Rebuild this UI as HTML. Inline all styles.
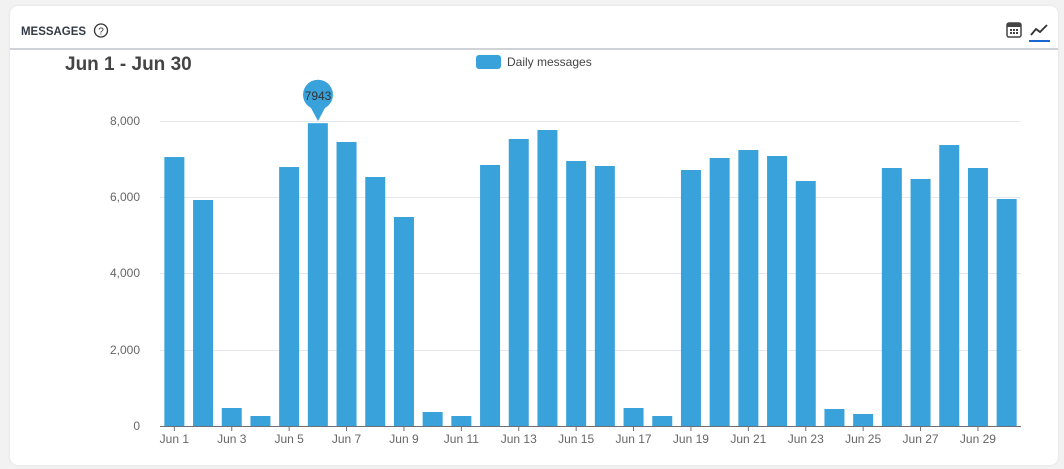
<!DOCTYPE html>
<html><head><meta charset="utf-8"><style>
body{margin:0;background:#f2f2f2;width:1064px;height:469px;overflow:hidden;font-family:"Liberation Sans",sans-serif}
.card{position:absolute;left:10px;top:6px;width:1048px;height:459px;background:#fff;border-radius:8px;box-shadow:0 0 3px rgba(0,0,0,.08)}
</style></head><body>
<div class="card"></div>
<svg width="1064" height="469" style="position:absolute;left:0;top:0" font-family="Liberation Sans, sans-serif">
<text x="21" y="35" font-size="12" font-weight="bold" fill="#333a45" textLength="65" lengthAdjust="spacingAndGlyphs">MESSAGES</text>
<circle cx="101" cy="30.5" r="6.5" fill="none" stroke="#333" stroke-width="1.3"/>
<text x="101" y="34.5" font-size="10" text-anchor="middle" fill="#333">?</text>
<rect x="1007" y="23" width="14" height="14" rx="2" fill="none" stroke="#444" stroke-width="1.5"/>
<rect x="1007" y="23" width="14" height="4" fill="#444"/>
<g fill="#444"><rect x="1010" y="29" width="2" height="2"/><rect x="1013" y="29" width="2" height="2"/><rect x="1016" y="29" width="2" height="2"/><rect x="1010" y="32" width="2" height="2"/><rect x="1013" y="32" width="2" height="2"/><rect x="1016" y="32" width="2" height="2"/></g>
<polyline points="1031,35 1036,29 1040,32 1047,25" fill="none" stroke="#333" stroke-width="1.8"/>
<rect x="1029" y="40" width="21" height="2" fill="#1a66d0"/>
<rect x="10" y="48" width="1048" height="2" fill="#cfd2d6"/>
<text x="65" y="70" font-size="19" font-weight="bold" fill="#444">Jun 1 - Jun 30</text>
<rect x="476" y="55" width="25" height="14" rx="3" fill="#3aa2db"/>
<text x="507" y="66" font-size="12" fill="#444">Daily messages</text>
<g stroke="#e4e7ee" stroke-width="1"><line x1="160" x2="1021" y1="121.5" y2="121.5"/><line x1="160" x2="1021" y1="197.5" y2="197.5"/><line x1="160" x2="1021" y1="273.5" y2="273.5"/><line x1="160" x2="1021" y1="350.5" y2="350.5"/></g>
<g font-size="12" fill="#666" text-anchor="end"><text x="140" y="125">8,000</text><text x="140" y="201">6,000</text><text x="140" y="277">4,000</text><text x="140" y="354">2,000</text><text x="140" y="430">0</text></g>
<g id="bars" fill="#3aa2db"></g>
<line x1="160" x2="1021" y1="426.5" y2="426.5" stroke="#6e7079"/>
<g id="ticks" stroke="#6e7079"></g>
<g id="lbl" font-size="12" fill="#666" text-anchor="middle"></g>
<path d="M318,121 L311,108 A15,15 0 1 1 325,108 Z" fill="#3aa2db"/>
<text x="318" y="100" font-size="12" fill="#333" text-anchor="middle">7943</text>
</svg>
<script>
var v=[7055,5928,472,262,6793,7943,7449,6531,5482,367,262,6846,7528,7764,6951,6820,472,262,6715,7030,7239,7082,6426,446,315,6767,6479,7370,6767,5954];
var b='',t='',l='',w=861/30;
for(var i=0;i<30;i++){var cx=160+w*(i+.5),h=v[i]*305/8000;
b+='<rect x="'+(cx-10)+'" y="'+(426-h)+'" width="20" height="'+h+'"/>';
if(i%2==0){t+='<line x1="'+cx+'" x2="'+cx+'" y1="426" y2="431"/>';l+='<text x="'+cx+'" y="443">Jun '+(i+1)+'</text>';}}
document.getElementById('bars').innerHTML=b;document.getElementById('ticks').innerHTML=t;document.getElementById('lbl').innerHTML=l;
</script>
</body></html>
